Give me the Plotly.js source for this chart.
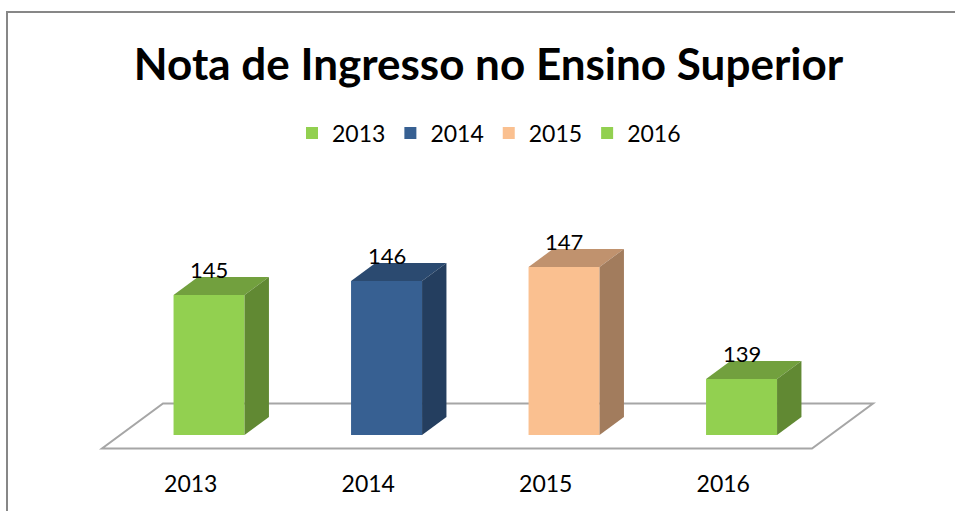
<!DOCTYPE html>
<html>
<head>
<meta charset="utf-8">
<script src="https://cdn.plot.ly/plotly-3.0.1.min.js"></script>
<style>
  html, body { margin: 0; padding: 0; background: #ffffff; }
  #chart { width: 955px; height: 511px; }
</style>
</head>
<body>
<div id="chart"></div>
<script>
// ---- data ----
const categories = ['2013', '2014', '2015', '2016'];
const values = [145, 146, 147, 139];
const axisBase = 135;
const chartTitle = 'Nota de Ingresso no Ensino Superior';

// ---- styles ----
const frontColors = ['#92D050', '#376092', '#FAC090', '#92D050'];
const topColors   = ['#72A03E', '#2B4A70', '#C0926E', '#72A03E'];
const sideColors  = ['#618933', '#243E5F', '#A27C5D', '#618933'];
const FONT = 'Lato, "Open Sans", sans-serif';

// ---- layout geometry (pixels) ----
const W = 955, H = 511;
const PL = 60, PR = 895, PT = 160, PB = 468;
const catPx = 177.5;           // pixels per category on floor front edge
const floorLeftPx = 102;       // floor front-left corner x
const unitPx = 14;             // pixels per value unit
const basePy = 435;            // pixel y of the bar base (front face)
const depthPx = [61, 45];      // full floor depth offset (right, up)

const xRange = [(PL - floorLeftPx) / catPx - 0.5, (PR - floorLeftPx) / catPx - 0.5];
const yRange = [axisBase + (basePy - PB) / unitPx, axisBase + (basePy - PT) / unitPx];
const DX = depthPx[0] / catPx;  // full depth in x data units
const DY = depthPx[1] / unitPx; // full depth in y data units
const dFront = 0.3, dBack = 0.7, barW = 0.4;

const traces = [];
const sx = dFront * DX;
const ddx = (dBack - dFront) * DX, ddy = (dBack - dFront) * DY;

// front faces (bars)
categories.forEach((c, i) => {
  traces.push({
    type: 'bar', name: c, x: [i + sx], y: [values[i] - axisBase], base: axisBase,
    width: barW, marker: { color: frontColors[i], line: { width: 0 } },
    showlegend: true, hoverinfo: 'skip'
  });
});
// top and side faces
categories.forEach((c, i) => {
  const xl = i + sx - barW / 2, xr = i + sx + barW / 2, v = values[i];
  traces.push({
    type: 'scatter', mode: 'lines', fill: 'toself', fillcolor: topColors[i],
    line: { width: 0, color: topColors[i] },
    x: [xl, xr, xr + ddx, xl + ddx, xl],
    y: [v, v, v + ddy, v + ddy, v],
    showlegend: false, hoverinfo: 'skip'
  });
  traces.push({
    type: 'scatter', mode: 'lines', fill: 'toself', fillcolor: sideColors[i],
    line: { width: 0, color: sideColors[i] },
    x: [xr, xr, xr + ddx, xr + ddx, xr],
    y: [axisBase, v, v + ddy, axisBase + ddy, axisBase],
    showlegend: false, hoverinfo: 'skip'
  });
});

// floor (below everything)
const vf = axisBase - dFront * DY;
const n = categories.length;
const fx0 = -0.5, fx1 = n - 0.5;
const floorPath = `M ${fx0} ${vf} L ${fx1} ${vf} L ${fx1 + DX} ${vf + DY} L ${fx0 + DX} ${vf + DY} Z`;

// chart border (paper coords)
const pw = PR - PL, ph = PB - PT;
const toPX = px => (px - PL) / pw;
const toPY = py => (PB - py) / ph;

const annotations = categories.map((c, i) => ({
  x: i + sx, y: values[i], xref: 'x', yref: 'y', text: String(values[i]),
  showarrow: false, yshift: 26, font: { family: FONT, size: 22, color: '#000' }
}));

const layout = {
  width: W, height: H,
  margin: { l: PL, r: W - PR, t: PT, b: H - PB, pad: 0 },
  paper_bgcolor: '#ffffff', plot_bgcolor: 'rgba(0,0,0,0)',
  font: { family: FONT, color: '#000' },
  title: {
    text: chartTitle, xref: 'container', yref: 'container',
    x: 488.5 / W, xanchor: 'center', y: 1 - 65 / H, yanchor: 'middle',
    font: { family: FONT, size: 44, weight: 700, color: '#000' }
  },
  showlegend: true,
  legend: {
    orientation: 'h', xref: 'container', yref: 'container',
    x: 489 / W, xanchor: 'center', y: 1 - 133 / H, yanchor: 'middle',
    font: { family: FONT, size: 23, color: '#000' }, traceorder: 'normal',
    itemwidth: 30
  },
  barmode: 'overlay',
  xaxis: {
    range: xRange, tickvals: categories.map((c, i) => i), ticktext: categories,
    showgrid: false, zeroline: false, showline: false, ticks: '',
    tickfont: { family: FONT, size: 23, color: '#000' }, fixedrange: true
  },
  yaxis: { range: yRange, visible: false, fixedrange: true },
  shapes: [
    { type: 'path', xref: 'x', yref: 'y', path: floorPath, layer: 'below',
      fillcolor: '#ffffff', line: { color: '#A6A6A6', width: 2 } },
    { type: 'rect', xref: 'paper', yref: 'paper',
      x0: toPX(7), x1: toPX(W + 20), y0: toPY(H + 20), y1: toPY(12),
      line: { color: '#878787', width: 2 }, fillcolor: 'rgba(0,0,0,0)', layer: 'above' }
  ],
  annotations: annotations
};

Plotly.newPlot('chart', traces, layout, { staticPlot: true, displayModeBar: false });
</script>
</body>
</html>
